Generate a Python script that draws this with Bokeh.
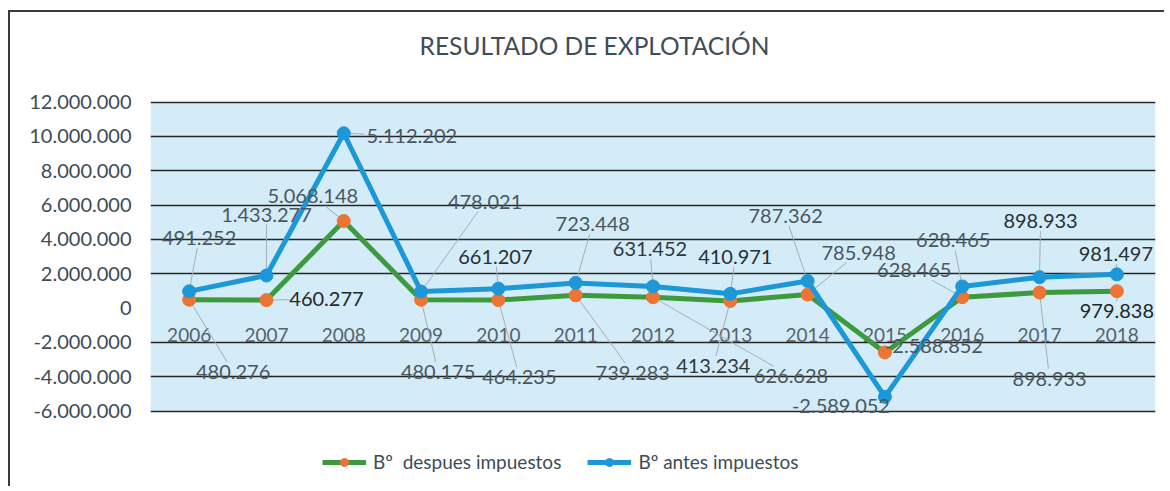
from bokeh.plotting import figure
from bokeh.models import (ColumnDataSource, FixedTicker, CustomJSTickFormatter,
                          Legend, LegendItem, Label, BoxAnnotation)
from bokeh.core.properties import value
from bokeh.embed import file_html
from bokeh.resources import INLINE

# ---- data ----
years = ["2006", "2007", "2008", "2009", "2010", "2011", "2012",
         "2013", "2014", "2015", "2016", "2017", "2018"]
despues = [480276, 460277, 5068148, 480175, 464235, 739283, 626628,
           413234, 785948, -2588852, 628465, 898933, 979838]
antes = [491252, 1433277, 5112202, 478021, 661207, 723448, 631452,
         410971, 787362, -2589052, 628465, 898933, 981497]
y_ticks = [-6000000, -4000000, -2000000, 0, 2000000, 4000000,
           6000000, 8000000, 10000000, 12000000]
title_text = "RESULTADO DE EXPLOTACIÓN"
name_despues = "Bº  despues impuestos"
name_antes = "Bº antes impuestos"


def fmt(v):
    s = f"{abs(v):,}".replace(",", ".")
    return ("-" if v < 0 else "") + s


# stacked line chart: "antes" is drawn on top of "despues"
antes_stacked = [a + d for a, d in zip(antes, despues)]

# ---- label placement (pixels, relative to each point) ----
antes_dx = [10, 0, 68, 64, -3, 17, -3, 5, -22, -44, -9, 1, -1]
antes_dy = [-53, -61, 3, -90, -32, -59, -37, -37, -65, 9, -46, -56, -20]
antes_col = ["#4a565f", "#4a565f", "#4a565f", "#4a565f", "#273036", "#4a565f",
             "#2f383f", "#273036", "#4a565f", "#4a565f", "#4a565f", "#273036", "#273036"]
desp_dx = [44, 60, -31, 17, 21, 57, 138, -17, 51, 49, -48, 10, 0]
desp_dy = [72, -1, -25, 72, 77, 78, 79, 65, -42, -6, -27, 86, 20]
desp_col = ["#4a565f", "#1f272c", "#4a565f", "#4a565f", "#4a565f", "#4a565f",
            "#4a565f", "#2f383f", "#4a565f", "#4a565f", "#4a565f", "#4a565f", "#1f272c"]

lbl_a = [fmt(v) for v in antes]
lbl_d = [fmt(v) for v in despues]

src = ColumnDataSource(dict(
    year=years, desp=despues, antes_s=antes_stacked,
    lbl_a=lbl_a, lbl_d=lbl_d,
    adx=antes_dx, ady=antes_dy, acol=antes_col,
    ddx=desp_dx, ddy=desp_dy, dcol=desp_col,
))

FONT = "Lato"
TXT = "#3d4c56"
Y_MIN, Y_MAX = y_ticks[0], y_ticks[-1]
Y0, Y1 = -10339000, 16748000          # frame extended for title / legend
W, H = 1156, 476
ML, MR, MT, MB = 140, 11, 8, 3
FRAME_W = W - ML - MR
FRAME_H = H - MT - MB
PX_X = FRAME_W / len(years)            # pixels per category
PX_Y = FRAME_H / (Y1 - Y0)             # pixels per unit value


def leaders(vals, dxs, dys, labels):
    """Leader lines from each point to the edge of its moved label."""
    x0, y0, x1, y1 = [], [], [], []
    for i, (v, dx, dy, t) in enumerate(zip(vals, dxs, dys, labels)):
        hw, hh = 5.3 * len(t), 10.0
        k = max(abs(dx) / hw, abs(dy) / hh)
        if k <= 1.15:
            continue
        f = 1 - 1 / k
        ex, ey = dx * f, dy * f
        x0.append(i + 0.5)
        y0.append(v)
        x1.append(i + 0.5 + ex / PX_X)
        y1.append(v - ey / PX_Y)
    return x0, y0, x1, y1


p = figure(x_range=years, y_range=(Y0, Y1),
           width=W, height=H, output_backend="svg", toolbar_location=None,
           min_border_left=ML, min_border_right=MR,
           min_border_top=MT, min_border_bottom=MB)
p.margin = (10, 0, 0, 8)
p.styles = {"border-top": "2px solid #3a3a3a", "border-left": "2px solid #3a3a3a"}
p.background_fill_color = "white"
p.border_fill_color = "white"
p.outline_line_color = None

# plot-area fill
p.add_layout(BoxAnnotation(bottom=Y_MIN, top=Y_MAX, fill_color="#d4ecf7", fill_alpha=1,
                           line_color=None, level="image"))

# grid
p.xgrid.grid_line_color = None
p.ygrid.ticker = FixedTicker(ticks=[t for t in y_ticks if t != 0])
p.ygrid.grid_line_color = "#262626"
p.ygrid.grid_line_width = 1.7

# y axis
p.yaxis.ticker = FixedTicker(ticks=y_ticks)
p.yaxis.formatter = CustomJSTickFormatter(code="""
const s = Math.abs(tick).toFixed(0).replace(/\\B(?=(\\d{3})+(?!\\d))/g, '.');
return (tick < 0 ? '-' : '') + s;
""")
p.yaxis.axis_line_color = None
p.yaxis.major_tick_line_color = None
p.yaxis.minor_tick_line_color = None
p.yaxis.major_tick_in = 0
p.yaxis.major_tick_out = 0
p.yaxis.major_label_standoff = 19
p.yaxis.major_label_text_font = FONT
p.yaxis.major_label_text_font_size = "20px"
p.yaxis.major_label_text_color = TXT

p.xaxis.visible = False

# category labels (drawn near the -2.000.000 line, as in the source)
p.text(x=years, y=-1600000, text=years, text_align="center", text_baseline="middle",
       text_font=value(FONT), text_font_size="19px", text_color="#56626b")

# leader lines of the moved data labels
for vals, dxs, dys, labels in ((despues, desp_dx, desp_dy, lbl_d),
                               (antes_stacked, antes_dx, antes_dy, lbl_a)):
    a0, b0, a1, b1 = leaders(vals, dxs, dys, labels)
    p.segment(x0=a0, y0=b0, x1=a1, y1=b1, line_color="#a3afb7", line_width=1)

GREEN = "#3e9a3e"
ORANGE = "#ec7434"
BLUE = "#1c98d8"

l1 = p.line("year", "desp", source=src, line_color=GREEN, line_width=5)
m1 = p.scatter("year", "desp", source=src, size=13, fill_color=ORANGE, line_color=ORANGE)
l2 = p.line("year", "antes_s", source=src, line_color=BLUE, line_width=5)
m2 = p.scatter("year", "antes_s", source=src, size=13, fill_color=BLUE, line_color=BLUE)

# data labels
p.text("year", "desp", text="lbl_d", source=src, x_offset="ddx", y_offset="ddy",
       text_align="center", text_baseline="middle", text_font=value(FONT),
       text_font_size="20px", text_color="dcol")
p.text("year", "antes_s", text="lbl_a", source=src, x_offset="adx", y_offset="ady",
       text_align="center", text_baseline="middle", text_font=value(FONT),
       text_font_size="20px", text_color="acol")

# title
p.add_layout(Label(x=5.743, y=15290000, text=title_text, text_align="center",
                   text_baseline="alphabetic", text_font=FONT, text_font_size="24.5px",
                   text_color="#3f4d57"))

legend = Legend(items=[LegendItem(label=name_despues, renderers=[l1, m1]),
                       LegendItem(label=name_antes, renderers=[l2, m2])],
                orientation="horizontal", location=(172, 12),
                label_text_font=FONT, label_text_font_size="19px",
                label_text_color=TXT, glyph_width=44, glyph_height=20,
                label_standoff=7, spacing=26, padding=0, margin=0,
                border_line_color=None, background_fill_alpha=0)
p.add_layout(legend, "center")

open("out.html", "w").write(file_html(p, INLINE))
